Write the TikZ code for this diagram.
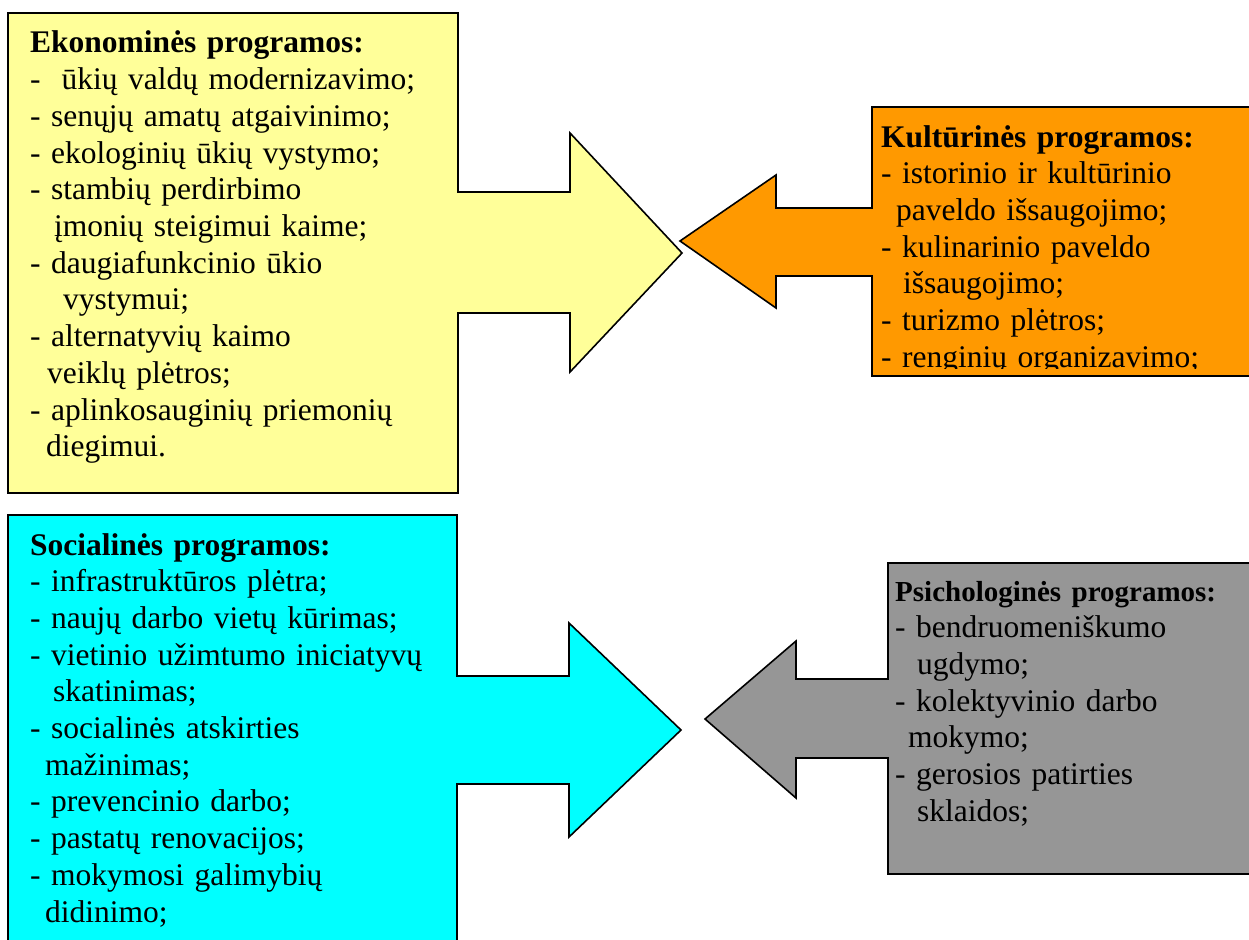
\documentclass[tikz,border=0pt]{standalone}
\usepackage{fontspec}
\setmainfont{Liberation Serif}
\definecolor{ekoyellow}{RGB}{255,255,153}
\definecolor{kultorange}{RGB}{255,153,0}
\definecolor{socicyan}{RGB}{0,255,255}
\definecolor{psigray}{RGB}{150,150,150}
\tikzset{
  progshape/.style={draw=black, line width=1.6pt},
  progtext/.style={anchor=base west, inner sep=0pt, text width=#1, align=left,
    font=\fontsize{31.5}{36.7}\selectfont},
  progtext/.default=430pt
}
\begin{document}
\begin{tikzpicture}[x=1pt, y=-1pt]
\useasboundingbox (0,0) rectangle (1249,939);
\clip (0,0) rectangle (1249,939);
\filldraw[progshape, fill=ekoyellow] (8,13) -- (458,13) -- (458,192) -- (570,192) -- (570,133) -- (682,253) -- (570,372) -- (570,313) -- (458,313) -- (458,493) -- (8,493) -- cycle;
\filldraw[progshape, fill=kultorange] (1260,107) -- (872,107) -- (872,208) -- (776,208) -- (776,175) -- (680,241) -- (776,308) -- (776,276) -- (872,276) -- (872,376) -- (1260,376) -- cycle;
\filldraw[progshape, fill=socicyan] (8,515) -- (457,515) -- (457,676) -- (569,676) -- (569,623) -- (681,730) -- (569,837) -- (569,784) -- (457,784) -- (457,960) -- (8,960) -- cycle;
\filldraw[progshape, fill=psigray] (1260,563) -- (888,563) -- (888,679) -- (796,679) -- (796,641) -- (705,719) -- (796,798) -- (796,758) -- (888,758) -- (888,874) -- (1260,874) -- cycle;
\node[progtext] (ekonom) at (30,53) {\textbf{Ekonominės programos:}\\
-\ \ ūkių valdų modernizavimo;\\
- senųjų amatų atgaivinimo;\\
- ekologinių ūkių vystymo;\\
- stambių perdirbimo\\
\hspace*{24pt}įmonių steigimui kaime;\\
- daugiafunkcinio ūkio\\
\hspace*{33pt}vystymui;\\
- alternatyvių kaimo\\
\hspace*{17pt}veiklų plėtros;\\
- aplinkosauginių priemonių\\
\hspace*{16pt}diegimui.};
\begin{scope}
\clip (872,107) rectangle (1249,368);
\node[progtext=360pt] (kultur) at (881,147) {\textbf{Kultūrinės programos:}\\
- istorinio ir kultūrinio\\
\hspace*{15pt}paveldo išsaugojimo;\\
- kulinarinio paveldo\\
\hspace*{22pt}išsaugojimo;\\
- turizmo plėtros;\\
- renginių organizavimo;};
\end{scope}
\node[progtext] (social) at (30,555) {\textbf{Socialinės programos:}\\
- infrastruktūros plėtra;\\
- naujų darbo vietų kūrimas;\\
- vietinio užimtumo iniciatyvų\\
\hspace*{23pt}skatinimas;\\
- socialinės atskirties\\
\hspace*{15pt}mažinimas;\\
- prevencinio darbo;\\
- pastatų renovacijos;\\
- mokymosi galimybių\\
\hspace*{15pt}didinimo;};
\node[progtext=350pt] (psicho) at (895,601) {{\fontsize{29}{36.7}\selectfont\textbf{Psichologinės programos:}}\\
- bendruomeniškumo\\
\hspace*{22pt}ugdymo;\\
- kolektyvinio darbo\\
\hspace*{13pt}mokymo;\\
- gerosios patirties\\
\hspace*{22pt}sklaidos;};
\end{tikzpicture}
\end{document}
